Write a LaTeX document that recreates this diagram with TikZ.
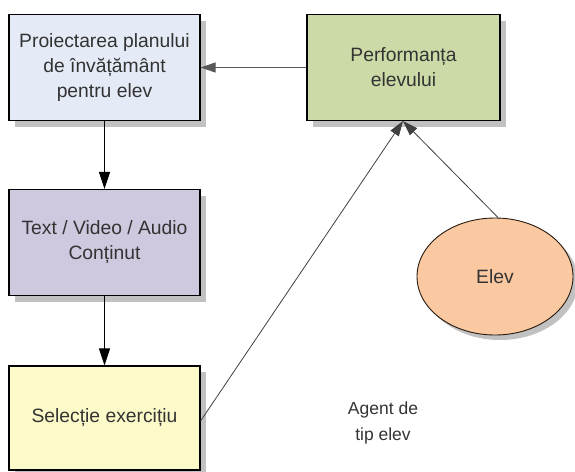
\documentclass[tikz,border=0pt]{standalone}
\usepackage{fontspec}
\setmainfont{Liberation Sans}
\usetikzlibrary{shapes.geometric,shadows,arrows.meta}
\definecolor{planfill}{HTML}{E4EAF6}
\definecolor{contfill}{HTML}{CFC8DE}
\definecolor{selfill}{HTML}{FCFAC8}
\definecolor{perffill}{HTML}{CCDAA7}
\definecolor{elevfill}{HTML}{FBC9A1}
\definecolor{txt}{HTML}{333333}
\tikzset{
  box/.style={draw=black, line width=1.1pt, minimum width=191pt, minimum height=106pt,
    align=center, text=txt, font=\fontsize{19.3}{25}\selectfont, inner sep=0pt,
    drop shadow={shadow xshift=6pt, shadow yshift=-6pt, fill=black!30, opacity=0.8}},
  oval/.style={ellipse, draw=black!80!brown, line width=0.9pt, minimum width=156pt,
    minimum height=117pt, inner sep=0pt, fill=elevfill, text=txt,
    font=\fontsize{19.3}{25}\selectfont,
    drop shadow={shadow xshift=5pt, shadow yshift=-5pt, fill=black!30, opacity=0.8}},
  tip/.style={-{Triangle[length=17pt,width=11pt]}},
  slimtip/.style={-{Triangle[length=15pt,width=10pt]}},
  thinlink/.style={slimtip, draw=black!75, line width=0.8pt},
}
\begin{document}
\begin{tikzpicture}[x=1pt,y=-1pt]
\useasboundingbox (0,0) rectangle (575,471);
% process boxes
\node[box, fill=planfill] (plan) at (104.5,67.5) {Proiectarea planului\\de învățământ\\pentru elev};
\node[box, fill=contfill] (cont) at (104.5,242.5) {Text / Video / Audio\\Conținut};
\node[box, fill=selfill, minimum height=104pt] (sel) at (104.5,418) {Selecție exercițiu};
\node[box, fill=perffill, minimum width=193pt] (perf) at (403.5,67.5) {Performanța\\elevului};
\node[oval] (elev) at (495,276.5) {Elev};
\node[text=txt, align=center, font=\fontsize{17.5}{26}\selectfont] (agent) at (383,423) {Agent de\\tip elev};
% connectors
\draw[tip, line width=1pt] (plan) -- (cont);
\draw[tip, line width=1pt] (cont) -- (sel);
\draw[slimtip, draw=black!65, line width=1pt] (perf) -- (plan);
\coordinate (meet) at ([xshift=-0.5pt]perf.south);
\coordinate (selout) at ([yshift=-3pt]sel.east);
\draw[thinlink] (selout) -- (meet);
\draw[thinlink] ([xshift=3pt]elev.north) -- (meet);
\end{tikzpicture}
\end{document}
